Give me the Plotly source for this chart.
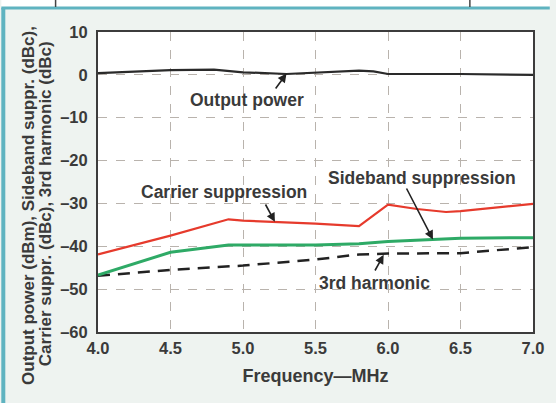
import plotly.graph_objects as go

# Data
freq_out = [4.0, 4.5, 4.8, 5.0, 5.3, 5.5, 5.8, 5.9, 6.0, 6.5, 7.0]
out_power = [0.4, 1.1, 1.2, 0.6, 0.2, 0.5, 1.0, 0.8, 0.2, 0.2, 0.0]

freq_car = [4.0, 4.5, 4.9, 5.0, 5.5, 5.8, 6.0, 6.2, 6.4, 6.5, 7.0]
carrier = [-41.9, -37.5, -33.7, -34.0, -34.7, -35.3, -30.3, -31.3, -32.0, -31.8, -30.1]

freq_sb = [4.0, 4.5, 4.9, 5.5, 5.8, 6.0, 6.5, 7.0]
sideband = [-46.7, -41.4, -39.7, -39.7, -39.4, -38.9, -38.1, -38.0]

freq_h3 = [4.0, 4.5, 5.0, 5.5, 5.8, 6.0, 6.5, 7.0]
harm3 = [-46.9, -45.5, -44.5, -43.1, -41.9, -41.7, -41.6, -40.2]

x_ticks = [4.0, 4.5, 5.0, 5.5, 6.0, 6.5, 7.0]
y_ticks = [10, 0, -10, -20, -30, -40, -50, -60]

FONT = "Liberation Sans, Arial, sans-serif"
TXT = "#3a3a3a"

fig = go.Figure()
fig.add_trace(go.Scatter(x=freq_h3, y=harm3, mode="lines",
                         line=dict(color="#222222", width=2.5, dash="12px,8px")))
fig.add_trace(go.Scatter(x=freq_sb, y=sideband, mode="lines",
                         line=dict(color="#2eaa66", width=3)))
fig.add_trace(go.Scatter(x=freq_car, y=carrier, mode="lines",
                         line=dict(color="#e63a2c", width=2.2)))
fig.add_trace(go.Scatter(x=freq_out, y=out_power, mode="lines",
                         line=dict(color="#2a2a2a", width=2.2)))

ann_font = dict(family=FONT, size=17.5, color=TXT, weight="bold")
annots = [
    ("Output power", 5.3, 0.3, 277, 90, 249, 100),
    ("Carrier suppression", 5.22, -34.3, 267, 203, 226, 192),
    ("Sideband suppression", 6.31, -38.4, 410, 187, 426, 178),
    ("3rd harmonic", 5.97, -42.0, 378, 272, 378, 283),
]
L, T, PW, PH = 98, 32, 441, 300
B = T + PH


def px2x(px):
    return 4.0 + (px - L) / PW * 3.0


def py2y(py):
    return 10 - (py - T) / PH * 70


for text, hx, hy, tx, ty, lx, ly in annots:
    fig.add_annotation(x=hx, y=hy, ax=px2x(tx), ay=py2y(ty), axref="x", ayref="y",
                       xref="x", yref="y", text="", showarrow=True,
                       arrowhead=2, arrowsize=1.1, arrowwidth=1.6, arrowcolor="#222222")
    fig.add_annotation(x=px2x(lx), y=py2y(ly), xref="x", yref="y", text=text,
                       showarrow=False, font=ann_font)

# y-axis title as two rotated lines
title_font = dict(family=FONT, size=17, color=TXT, weight="bold")
fig.add_annotation(x=(27 - L) / PW, y=(B - 205) / PH, xref="paper", yref="paper",
                   xanchor="center", yanchor="middle",
                   text="Output power (dBm), Sideband suppr. (dBc),", textangle=-90,
                   showarrow=False, font=title_font)
fig.add_annotation(x=(45 - L) / PW, y=(B - 203.5) / PH, xref="paper", yref="paper",
                   xanchor="center", yanchor="middle",
                   text="Carrier suppr. (dBc), 3rd harmonic (dBc)", textangle=-90,
                   showarrow=False, font=title_font)

# frame decorations (teal border and top strip)
shapes = [
    dict(type="rect", xref="paper", yref="paper", x0=(0 - L) / PW, x1=(556 - L) / PW,
         y0=(B - 0) / PH, y1=(B - 7) / PH, fillcolor="white", line=dict(width=0), layer="below"),
    dict(type="line", xref="paper", yref="paper", x0=(0 - L) / PW, x1=(556 - L) / PW,
         y0=(B - 8) / PH, y1=(B - 8) / PH, line=dict(color="#5fb3c0", width=3)),
    dict(type="line", xref="paper", yref="paper", x0=(2 - L) / PW, x1=(2 - L) / PW,
         y0=(B - 8) / PH, y1=(B - 403) / PH, line=dict(color="#5fb3c0", width=4)),
    dict(type="line", xref="paper", yref="paper", x0=(55 - L) / PW, x1=(55 - L) / PW,
         y0=(B - 0) / PH, y1=(B - 7) / PH, line=dict(color="#444", width=1.5)),
    dict(type="line", xref="paper", yref="paper", x0=(475 - L) / PW, x1=(475 - L) / PW,
         y0=(B - 0) / PH, y1=(B - 7) / PH, line=dict(color="#444", width=1.5)),
]

fig.update_layout(
    width=556, height=403,
    margin=dict(l=L, r=556 - L - PW, t=T, b=403 - T - PH),
    paper_bgcolor="#eef3f0", plot_bgcolor="white",
    showlegend=False, shapes=shapes,
    font=dict(family=FONT, color=TXT),
)
tick_font = dict(family=FONT, size=16.5, color=TXT, weight="bold")
fig.update_xaxes(range=[4.0, 7.0], tickvals=x_ticks, ticktext=[f"{v:.1f}" for v in x_ticks],
                 showgrid=True, gridcolor="#b9b3ad", griddash="dash", gridwidth=1,
                 showline=True, linecolor="#3c3c3c", linewidth=2, mirror=True,
                 ticks="", zeroline=False, tickfont=tick_font,
                 title=dict(text="Frequency—MHz", standoff=14,
                            font=dict(family=FONT, size=18, color=TXT, weight="bold")))
fig.update_yaxes(range=[-60, 10], tickvals=y_ticks,
                 ticktext=[str(v).replace("-", "–") for v in y_ticks],
                 showgrid=True, gridcolor="#b9b3ad", griddash="dash", gridwidth=1,
                 showline=True, linecolor="#3c3c3c", linewidth=2, mirror=True,
                 ticks="", zeroline=False, ticklabelstandoff=5, tickfont=tick_font)

fig.write_html("out.html")
